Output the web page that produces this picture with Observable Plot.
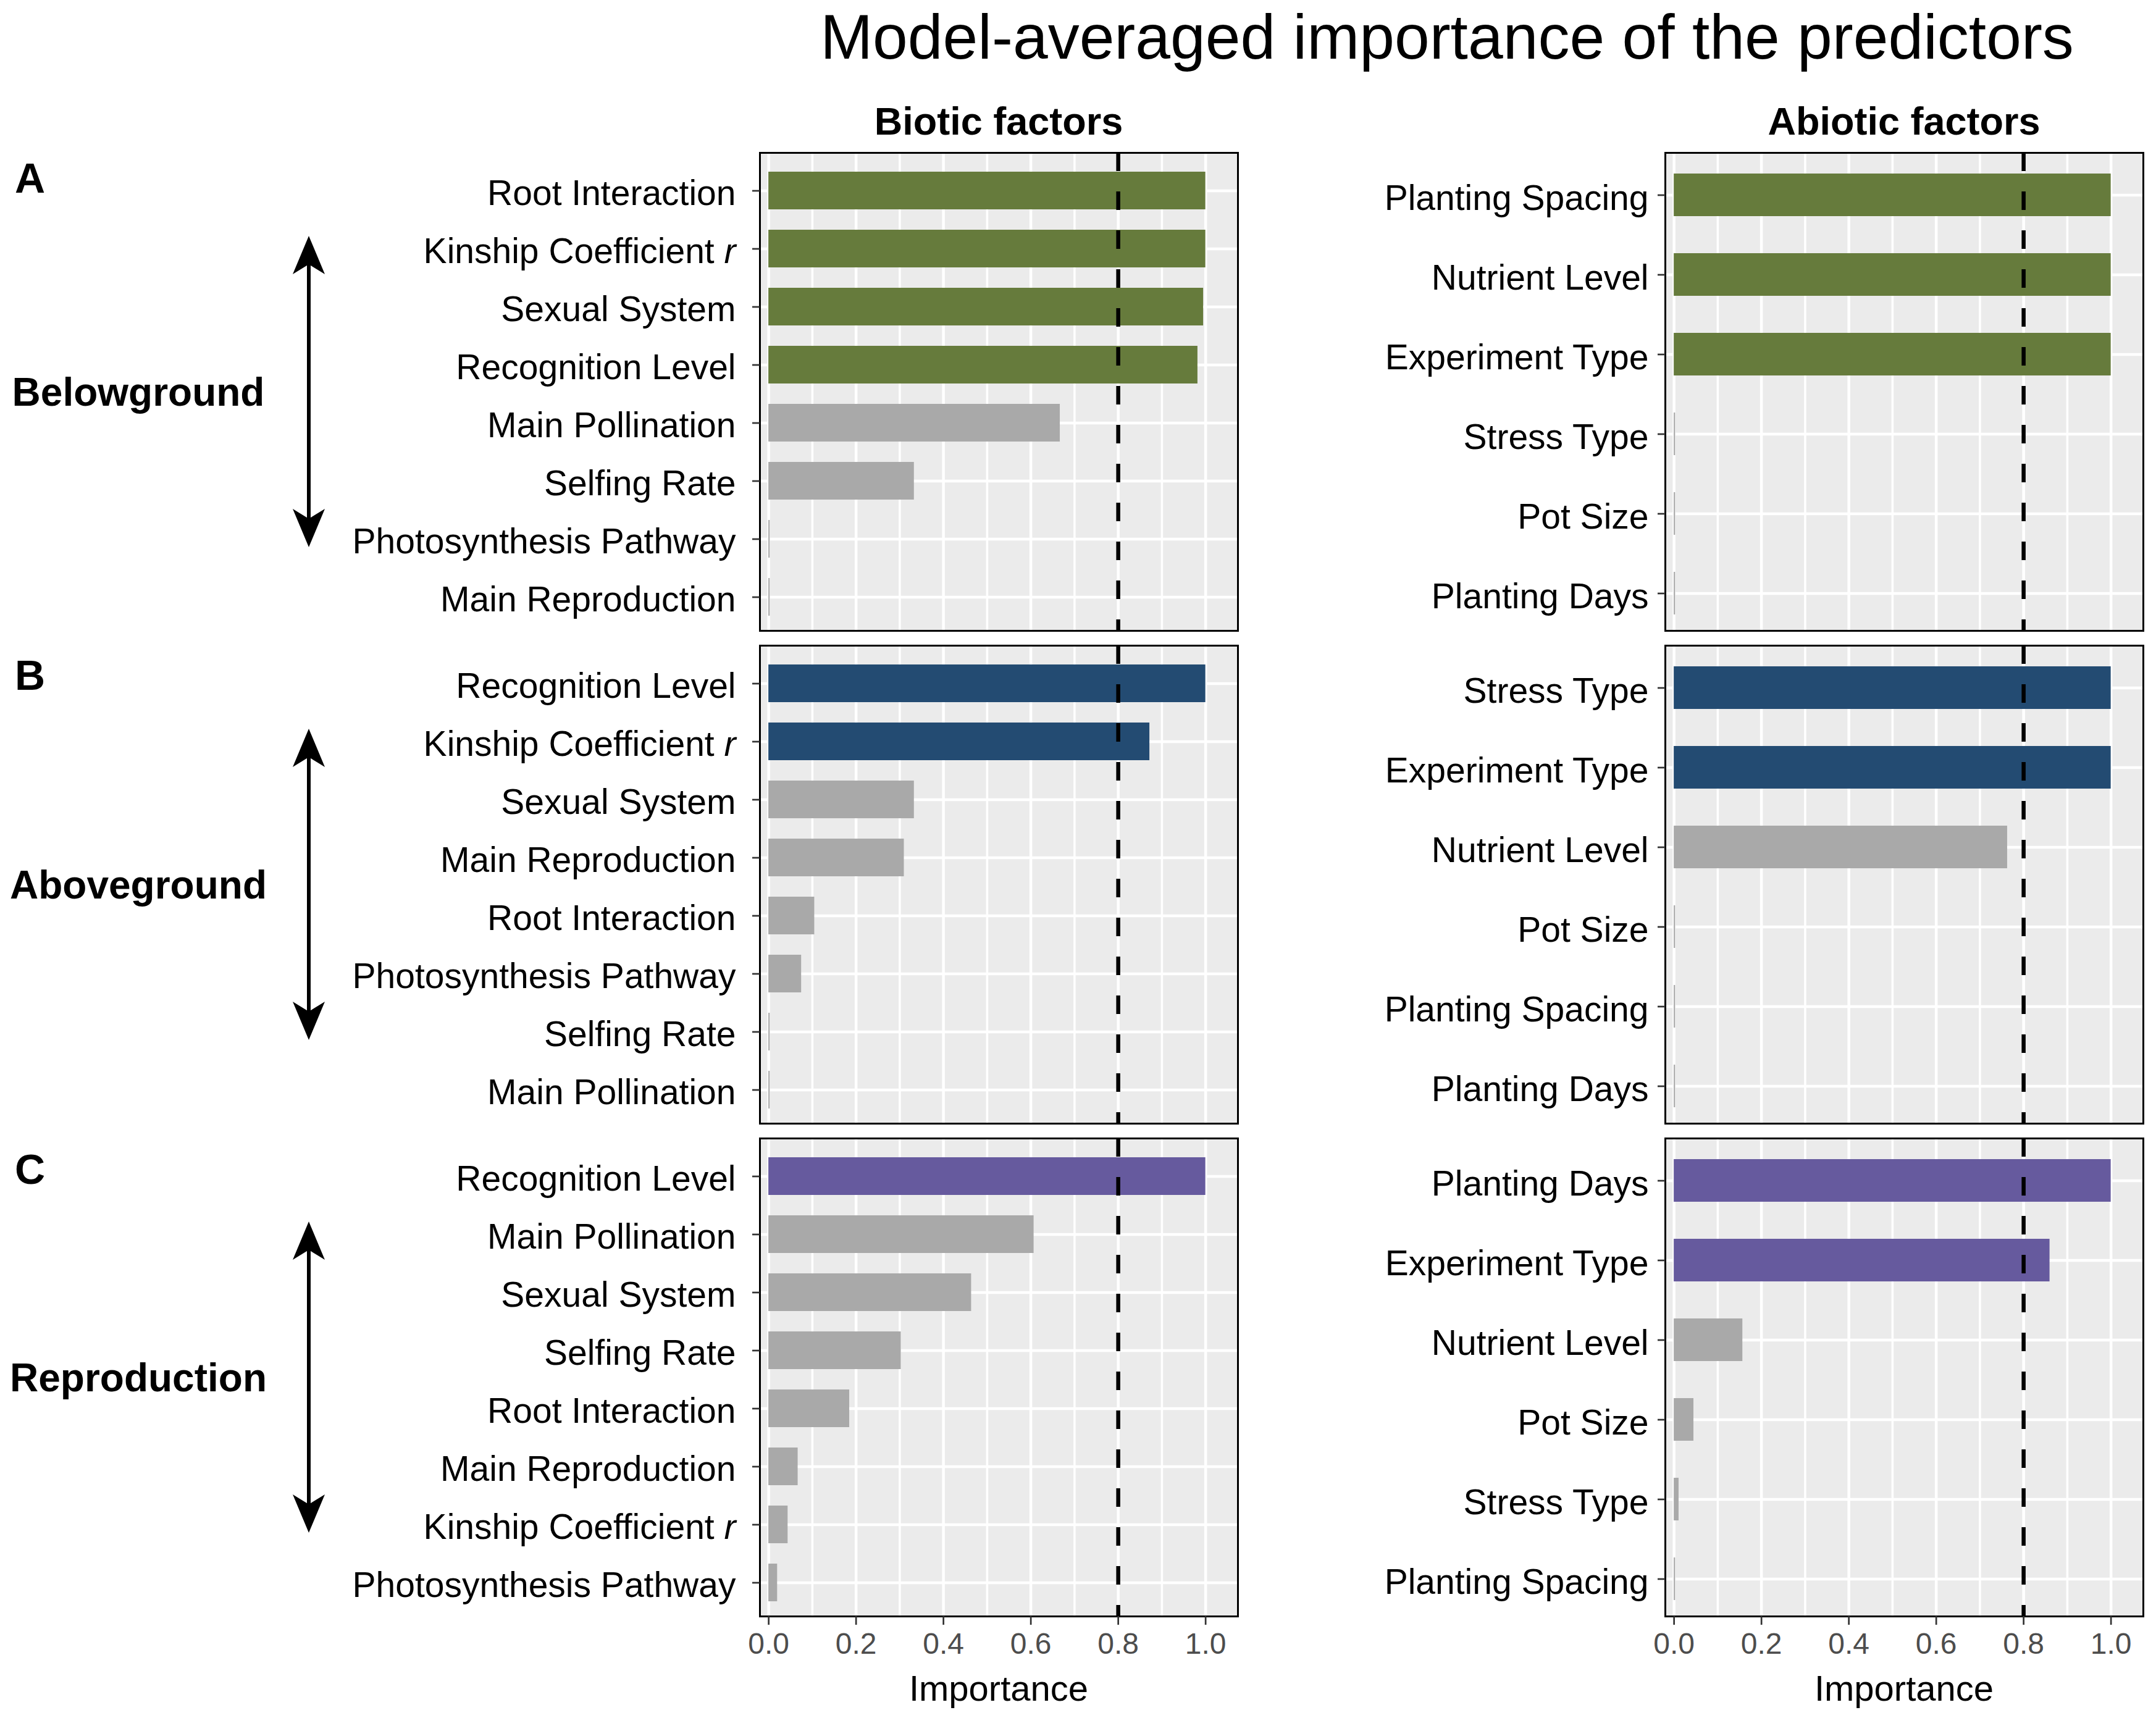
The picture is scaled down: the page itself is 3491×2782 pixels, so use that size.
<!DOCTYPE html>
<html>
<head>
<meta charset="utf-8">
<script src="https://cdn.jsdelivr.net/npm/d3@7"></script>
<script src="https://cdn.jsdelivr.net/npm/@observablehq/plot@0.6"></script>
<style>
  html, body { margin: 0; padding: 0; background: #fff; }
  #root { position: relative; width: 3491px; height: 2782px; overflow: hidden; background: #fff;
          font-family: "Liberation Sans", Arial, sans-serif; }
  .panel { position: absolute; }
  #overlay { position: absolute; left: 0; top: 0; pointer-events: none; }
</style>
</head>
<body>
<div id="root"></div>
<script>
// ---------------- DATA ----------------
const chartTitle = "Model-averaged importance of the predictors";
const columnTitles = ["Biotic factors", "Abiotic factors"];
const groupLetters = ["A", "B", "C"];
const groupNames = ["Belowground", "Aboveground", "Reproduction"];
const groupColors = ["#667B3C", "#234B72", "#665A9E"];
const greyColor = "#A9A9A9";
const threshold = 0.8;
const xTicks = [0, 0.2, 0.4, 0.6, 0.8, 1.0];
const xMinorTicks = [0.1, 0.3, 0.5, 0.7, 0.9];
const xLabel = "Importance";

// Belowground
const belowBioticNames = ["Root Interaction", "Kinship Coefficient r", "Sexual System", "Recognition Level",
  "Main Pollination", "Selfing Rate", "Photosynthesis Pathway", "Main Reproduction"];
const belowBioticValues = [1.0, 1.0, 0.995, 0.982, 0.667, 0.333, 0.003, 0.003];
const belowAbioticNames = ["Planting Spacing", "Nutrient Level", "Experiment Type", "Stress Type", "Pot Size", "Planting Days"];
const belowAbioticValues = [1.0, 1.0, 1.0, 0.003, 0.003, 0.003];

// Aboveground
const aboveBioticNames = ["Recognition Level", "Kinship Coefficient r", "Sexual System", "Main Reproduction",
  "Root Interaction", "Photosynthesis Pathway", "Selfing Rate", "Main Pollination"];
const aboveBioticValues = [1.0, 0.872, 0.333, 0.31, 0.105, 0.075, 0.003, 0.003];
const aboveAbioticNames = ["Stress Type", "Experiment Type", "Nutrient Level", "Pot Size", "Planting Spacing", "Planting Days"];
const aboveAbioticValues = [1.0, 1.0, 0.763, 0.003, 0.003, 0.003];

// Reproduction
const reproBioticNames = ["Recognition Level", "Main Pollination", "Sexual System", "Selfing Rate",
  "Root Interaction", "Main Reproduction", "Kinship Coefficient r", "Photosynthesis Pathway"];
const reproBioticValues = [1.0, 0.607, 0.464, 0.303, 0.185, 0.067, 0.044, 0.02];
const reproAbioticNames = ["Planting Days", "Experiment Type", "Nutrient Level", "Pot Size", "Stress Type", "Planting Spacing"];
const reproAbioticValues = [1.0, 0.86, 0.157, 0.045, 0.011, 0.003];

// ---------------- LAYOUT ----------------
const FONT = '"Liberation Sans", Arial, sans-serif';
const PANEL_W = 774, PANEL_H = 774;
const colLeft = [1230, 2696];
const svgLeft = [520, 2190];
const rowTop = [247, 1045, 1843];
const root = document.getElementById("root");

function makePanel(names, values, color, col, row) {
  const isBottom = row === 2;
  const data = names.map((n, i) => ({name: n, value: values[i]}));
  const mL = colLeft[col] - svgLeft[col];
  const mT = 6, mR = 10, mB = isBottom ? 90 : 8;
  const inner = col === 0 ? 0.35 : 0.467;
  const outer = col === 0 ? 0.273 : 0.2265;
  const align = col === 0 ? 0.57 : 0.56;
  const chart = Plot.plot({
    width: mL + PANEL_W + mR,
    height: mT + PANEL_H + mB,
    marginLeft: mL, marginRight: mR, marginTop: mT, marginBottom: mB,
    x: {domain: [-0.02, 1.074], axis: null},
    y: {domain: names, paddingInner: inner, paddingOuter: outer, align, axis: null},
    color: {type: "identity"},
    style: {background: "transparent", fontFamily: FONT, fontSize: "57px", overflow: "visible", maxWidth: "none"},
    marks: [
      Plot.frame({fill: "#EBEBEB", stroke: "none"}),
      Plot.ruleX(xMinorTicks, {stroke: "white", strokeWidth: 3.5}),
      Plot.ruleX(xTicks, {stroke: "white", strokeWidth: 4.5}),
      Plot.ruleY(names, {stroke: "white", strokeWidth: 4.5}),
      Plot.barX(data, {x: "value", y: "name", fill: d => d.value > threshold ? color : greyColor}),
      Plot.ruleX([threshold], {stroke: "black", strokeWidth: 6.5, strokeDasharray: "30,33"}),
      Plot.frame({stroke: "black", strokeWidth: 3, fill: "none"}),
      Plot.axisY({tickSize: 12, tickPadding: col === 0 ? 27 : 15, fontSize: 57, color: "black",
                  stroke: "#333333", strokeWidth: 2.7, label: null}),
      isBottom ? Plot.axisX(xTicks, {tickFormat: d3.format(".1f"), tickSize: 14, tickPadding: 12, fontSize: 48,
                  color: "#4D4D4D", stroke: "#333333", strokeWidth: 2.7, label: null}) : null
    ]
  });
  // italic r in "Kinship Coefficient r"; nudge y tick labels to match the reference baseline
  const yShift = col === 0 ? 5 : 6;
  chart.querySelectorAll("text").forEach(t => {
    if (names.includes(t.textContent)) {
      const cur = t.getAttribute("transform") || "";
      t.setAttribute("transform", cur + ` translate(0,${yShift})`);
    }
    if (t.textContent === "Kinship Coefficient r") {
      t.textContent = "";
      const ns = "http://www.w3.org/2000/svg";
      const a = document.createElementNS(ns, "tspan");
      a.textContent = "Kinship Coefficient ";
      const b = document.createElementNS(ns, "tspan");
      b.setAttribute("font-style", "italic");
      b.textContent = "r";
      t.appendChild(a); t.appendChild(b);
    }
  });
  const div = document.createElement("div");
  div.className = "panel";
  div.style.left = svgLeft[col] + "px";
  div.style.top = (rowTop[row] - mT) + "px";
  div.appendChild(chart);
  root.appendChild(div);
}

const panels = [
  [belowBioticNames, belowBioticValues, belowAbioticNames, belowAbioticValues],
  [aboveBioticNames, aboveBioticValues, aboveAbioticNames, aboveAbioticValues],
  [reproBioticNames, reproBioticValues, reproAbioticNames, reproAbioticValues]
];
panels.forEach((p, r) => {
  makePanel(p[0], p[1], groupColors[r], 0, r);
  makePanel(p[2], p[3], groupColors[r], 1, r);
});

// ---------------- ANNOTATIONS ----------------
const ns = "http://www.w3.org/2000/svg";
const ov = document.createElementNS(ns, "svg");
ov.setAttribute("id", "overlay");
ov.setAttribute("width", 3491);
ov.setAttribute("height", 2782);
ov.setAttribute("font-family", FONT);
function addText(str, x, y, size, weight, anchor) {
  const t = document.createElementNS(ns, "text");
  t.setAttribute("x", x); t.setAttribute("y", y);
  t.setAttribute("font-size", size);
  t.setAttribute("font-weight", weight);
  t.setAttribute("text-anchor", anchor);
  t.setAttribute("fill", "black");
  t.textContent = str;
  ov.appendChild(t);
}
addText(chartTitle, 2343, 95, 102, "normal", "middle");
addText(columnTitles[0], colLeft[0] + PANEL_W / 2, 218, 63, "bold", "middle");
addText(columnTitles[1], colLeft[1] + PANEL_W / 2, 218, 63, "bold", "middle");
const letterBase = [312, 1117, 1917];
groupLetters.forEach((l, i) => addText(l, 24, letterBase[i], 68, "bold", "start"));
groupNames.forEach((g, i) => {
  const cy = rowTop[i] + PANEL_H / 2;
  addText(g, 224, cy + 23, 64, "bold", "middle");
  // double-headed arrow
  const ax = 500, half = 252, hl = 62, hw = 26, notch = 46;
  const top = cy - half, bot = cy + half;
  const line = document.createElementNS(ns, "line");
  line.setAttribute("x1", ax); line.setAttribute("x2", ax);
  line.setAttribute("y1", top + notch - 4); line.setAttribute("y2", bot - notch + 4);
  line.setAttribute("stroke", "black"); line.setAttribute("stroke-width", 6);
  ov.appendChild(line);
  const head = document.createElementNS(ns, "path");
  head.setAttribute("d",
    `M${ax},${top} L${ax + hw},${top + hl} L${ax},${top + notch} L${ax - hw},${top + hl} Z ` +
    `M${ax},${bot} L${ax + hw},${bot - hl} L${ax},${bot - notch} L${ax - hw},${bot - hl} Z`);
  head.setAttribute("fill", "black");
  ov.appendChild(head);
});
addText(xLabel, colLeft[0] + PANEL_W / 2, 2754, 58, "normal", "middle");
addText(xLabel, colLeft[1] + PANEL_W / 2, 2754, 58, "normal", "middle");
root.appendChild(ov);
</script>
</body>
</html>
